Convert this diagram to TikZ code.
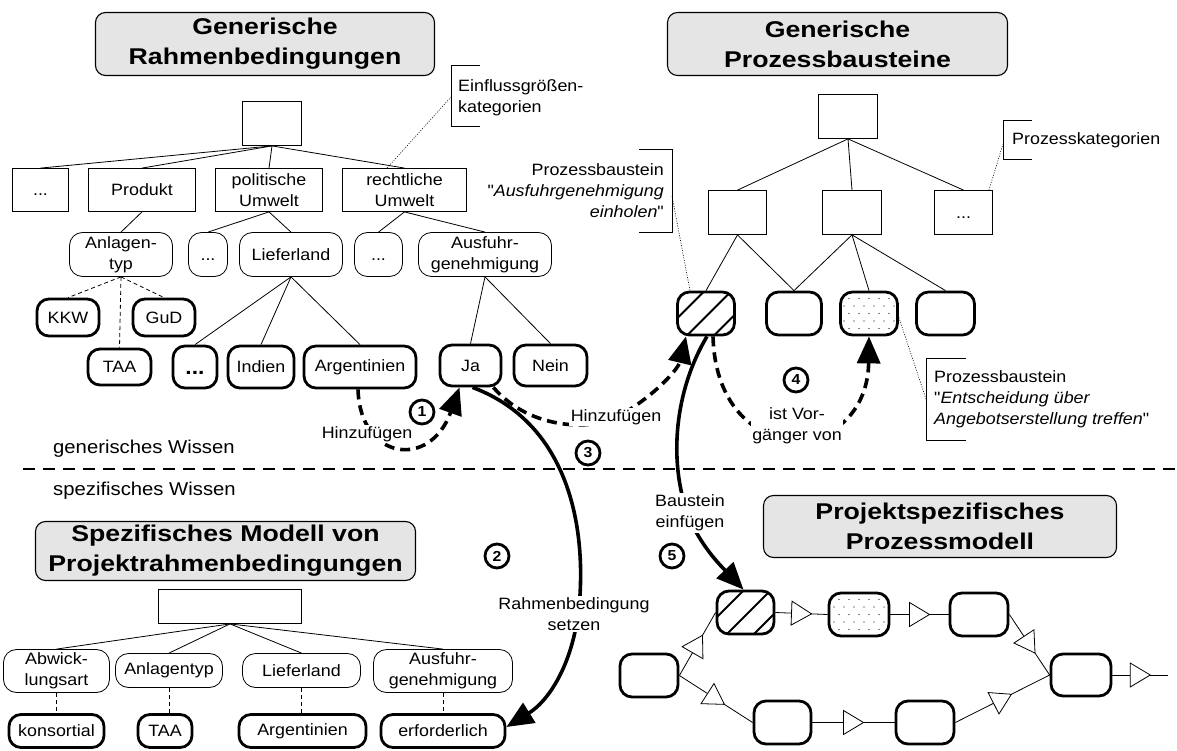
\documentclass[tikz,border=0pt]{standalone}
\usepackage{fontspec}
\setmainfont{Liberation Sans}[Ligatures=TeXOff, FakeStretch=1.09]
\newfontfamily\titlefont{Liberation Sans}[FakeStretch=1.17]
\usetikzlibrary{arrows.meta,calc,decorations.markings}
\newcommand{\mydots}{\vphantom{I}...}
\begin{document}
\begin{tikzpicture}[x=1pt,y=-1pt,
  every node/.style={font=\fontsize{16.4}{21}\selectfont, align=center, inner sep=0pt},
  cat/.style={draw, line width=0.8pt, rectangle},
  attr/.style={draw, line width=0.8pt, rounded corners=13pt},
  val/.style={draw, line width=2.8pt, rounded corners=12pt},
  title/.style={draw, line width=1.1pt, fill=black!10, rounded corners=10pt,
    font=\titlefont\fontsize{22.8}{30}\selectfont\bfseries},
  edge/.style={line width=0.8pt},
  dedge/.style={line width=0.8pt, dash pattern=on 4pt off 3pt},
  note/.style={line width=0.8pt},
  hint/.style={line width=0.6pt, dash pattern=on 1pt off 1.5pt},
  lab/.style={fill=white, inner sep=1.5pt},
  num/.style={circle, draw, line width=2.8pt, minimum size=24,
    font=\fontsize{14.5}{15}\selectfont\bfseries},
  bigarrow/.style={line width=3.6pt, -{Triangle[length=27pt,width=23pt]}},
  dasharrow/.style={bigarrow, dash pattern=on 10pt off 6pt},
  sepline/.style={line width=1.2pt, dash pattern=on 12pt off 8pt},
  flow/.style={line width=0.8pt, postaction={decorate, decoration={markings,
    mark=at position 0.5 with {\draw[line width=0.8pt, fill=white, solid]
      (-10pt,-12pt) -- (10pt,0pt) -- (-10pt,12pt) -- cycle;}}}},
  hatched/.style={path picture={
    \foreach \hh in {-24,3,30}
      \draw[line width=1.8pt] ($(path picture bounding box.center)+(\hh/2-40,\hh/2+40)$) -- ++(80,-80);}},
  dotfill/.style={path picture={
    \foreach \ii in {-3,...,3} \foreach \jj in {-2,0,2}
      \fill ($(path picture bounding box.center)+(\ii*10,\jj*7.5)$) circle (0.7pt);
    \foreach \ii in {-4,...,3} \foreach \jj in {-3,-1,1,3}
      \fill ($(path picture bounding box.center)+(\ii*10+5,\jj*7.5)$) circle (0.7pt);}}
]
\useasboundingbox (0,0) rectangle (1177,751);

% ---------- titles ----------
\node[title, minimum width=339, minimum height=63] (t1) at (265,44) {Generische\\Rahmenbedingungen};
\node[title, minimum width=340, minimum height=63] (t2) at (837.5,44) {Generische\\Prozessbausteine};
\node[title, minimum width=380, minimum height=59] (t3) at (225.5,551) {Spezifisches Modell von\\Projektrahmenbedingungen};
\node[title, minimum width=353, minimum height=62] (t4) at (940,526.5) {Projektspezifisches\\Prozessmodell};

% ---------- generic conditions tree ----------
\node[cat, minimum width=59, minimum height=44] (gr) at (272,123.5) {};
\node[cat, minimum width=56, minimum height=43] (g1) at (40.5,190) {\mydots};
\node[cat, minimum width=107, minimum height=43] (g2) at (142,190) {Produkt};
\node[cat, minimum width=107, minimum height=43] (g3) at (269,190) {politische\\Umwelt};
\node[cat, minimum width=124, minimum height=43] (g4) at (404.5,190) {rechtliche\\Umwelt};

\node[attr, minimum width=103, minimum height=44] (a1) at (121,254.5) {Anlagen-\\typ};
\node[attr, minimum width=39, minimum height=44] (a2) at (208,254.5) {\mydots};
\node[attr, minimum width=103, minimum height=44] (a3) at (291,254.5) {Lieferland};
\node[attr, minimum width=48, minimum height=44] (a4) at (378.5,254.5) {\mydots};
\node[attr, minimum width=133, minimum height=44] (a5) at (485,254.5) {Ausfuhr-\\genehmigung};

\node[val, minimum width=62, minimum height=37] (kkw) at (68,317.5) {KKW};
\node[val, minimum width=62, minimum height=37] (gud) at (164,317.5) {GuD};
\node[val, minimum width=63, minimum height=36] (taa) at (119.5,367) {TAA};
\node[val, minimum width=44, minimum height=42, font=\fontsize{21}{26}\selectfont\bfseries] (vdots) at (195,367) {\mydots};
\node[val, minimum width=66, minimum height=42] (ind) at (261,367) {Indien};
\node[val, minimum width=112, minimum height=42] (arg) at (360,367) {Argentinien};
\node[val, minimum width=61, minimum height=41] (ja) at (470.5,365.5) {Ja};
\node[val, minimum width=73, minimum height=41] (nein) at (550.5,365.5) {Nein};

\foreach \c in {g1,g2,g3,g4} \draw[edge] (gr.south) -- (\c.north);
\draw[edge] (g2.south) -- (a1.north);
\draw[edge] (g3.south) -- (a2.north);
\draw[edge] (g3.south) -- (a3.north);
\draw[edge] (g4.south) -- (a4.north);
\draw[edge] (g4.south) -- (a5.north);
\foreach \c in {kkw,taa,gud} \draw[dedge] (a1.south) -- (\c.north);
\foreach \c in {vdots,ind,arg} \draw[edge] (a3.south) -- (\c.north);
\foreach \c in {ja,nein} \draw[edge] (a5.south) -- (\c.north);

% category note
\node[anchor=west, align=left] (e1) at (458,97.5) {Einflussgrößen-\\kategorien};
\coordinate (e1a) at (480,65); \coordinate (e1b) at (451,65);
\coordinate (e1c) at (451,126); \coordinate (e1d) at (480,126);
\coordinate (e1m) at (451,97);
\draw[note] (e1a) -- (e1b) -- (e1c) -- (e1d);
\draw[hint] ([xshift=-17.5pt]g4.north) -- (e1m);

% ---------- generic process blocks tree ----------
\node[cat, minimum width=59, minimum height=44] (pr) at (848,116.5) {};
\node[cat, minimum width=58, minimum height=44] (p1) at (737.5,212.5) {};
\node[cat, minimum width=59, minimum height=44] (p2) at (852,212.5) {};
\node[cat, minimum width=58, minimum height=44] (p3) at (963.5,212.5) {\mydots};

\node[val, hatched, minimum width=57, minimum height=43] (b1) at (706,313.5) {};
\node[val, minimum width=55, minimum height=43] (b2) at (794,313.5) {};
\node[val, dotfill, minimum width=57, minimum height=43] (b3) at (869,313.5) {};
\node[val, minimum width=58, minimum height=43] (b4) at (945.5,313.5) {};

\foreach \c in {p1,p2,p3} \draw[edge] (pr.south) -- (\c.north);
\foreach \c in {b1,b2} \draw[edge] (p1.south) -- (\c.north);
\foreach \c in {b2,b3,b4} \draw[edge] (p2.south) -- (\c.north);

\node[anchor=west, align=left] (pk) at (1012,140) {Prozesskategorien};
\coordinate (pka) at (1032,120); \coordinate (pkb) at (1003,120);
\coordinate (pkc) at (1003,159); \coordinate (pkd) at (1032,159);
\coordinate (pkm) at (1003,144);
\draw[note] (pka) -- (pkb) -- (pkc) -- (pkd);
\draw[hint] ([xshift=-4pt]p3.north east) -- (pkm);

\node[anchor=east, align=right] (pa) at (664,191)
  {Prozessbaustein\\"\textit{Ausfuhrgenehmigung}\\\textit{einholen}"};
\coordinate (paa) at (639,149); \coordinate (pab) at (672,149);
\coordinate (pac) at (672,232); \coordinate (pad) at (639,232);
\coordinate (pam) at (672,196);
\draw[note] (paa) -- (pab) -- (pac) -- (pad);
\draw[hint] (pam) -- ([xshift=-16pt]b1.north);

\node[anchor=west, align=left] (pe) at (934,399)
  {Prozessbaustein\\"\textit{Entscheidung über}\\\textit{Angebotserstellung treffen}"};
\coordinate (pea) at (966,358); \coordinate (peb) at (926,358);
\coordinate (pec) at (926,440); \coordinate (ped) at (966,440);
\coordinate (pem) at (926,399);
\draw[note] (pea) -- (peb) -- (pec) -- (ped);
\draw[hint] ([yshift=-4pt]b3.east) -- (pem);

% ---------- separator ----------
\node[anchor=west, font=\fontsize{18.6}{22}\selectfont] (gw) at (53,449) {generisches Wissen};
\node[anchor=west, font=\fontsize{18.6}{22}\selectfont] (sw) at (53,491) {spezifisches Wissen};
\coordinate (sepL) at (23,469); \coordinate (sepR) at (1177,469);
\draw[sepline] (sepL) -- (sepR);

% ---------- specific conditions tree ----------
\node[cat, minimum width=143, minimum height=34] (sr) at (230,606.5) {};
\node[attr, minimum width=106, minimum height=43] (s1) at (56.5,671) {Abwick-\\lungsart};
\node[attr, minimum width=107, minimum height=34] (s2) at (169,670.5) {Anlagentyp};
\node[attr, minimum width=118, minimum height=34] (s3) at (301.5,670.5) {Lieferland};
\node[attr, minimum width=139, minimum height=43] (s4) at (443,671) {Ausfuhr-\\genehmigung};
\node[val, minimum width=95, minimum height=33] (v1) at (56.5,731) {konsortial};
\node[val, minimum width=54, minimum height=33] (v2) at (165,731) {TAA};
\node[val, minimum width=127, minimum height=33] (v3) at (302.5,731) {Argentinien};
\node[val, minimum width=124, minimum height=33] (v4) at (443,731) {erforderlich};
\foreach \c in {s1,s2,s3,s4} \draw[edge] (sr.south) -- (\c.north);
\draw[dedge] (s1.south) -- (s1.south |- v1.north);
\draw[dedge] (s2.south) -- (s2.south |- v2.north);
\draw[dedge] (s3.south) -- (s3.south |- v3.north);
\draw[dedge] (s4.south) -- (s4.south |- v4.north);

% ---------- project process model ----------
\node[val, minimum width=58, minimum height=43] (m0) at (649,675.5) {};
\node[val, hatched, minimum width=57, minimum height=43] (m1) at (745.5,612.5) {};
\node[val, dotfill, minimum width=60, minimum height=43] (m2) at (859,614.5) {};
\node[val, minimum width=58, minimum height=43] (m3) at (979,614.5) {};
\node[val, minimum width=60, minimum height=42] (m4) at (1081,675) {};
\node[val, minimum width=57, minimum height=43] (m5) at (782.5,722.5) {};
\node[val, minimum width=58, minimum height=43] (m6) at (925,722.5) {};
\coordinate (mout) at (1168,675);
\draw[flow] (m0.east) -- (m1.west);
\draw[flow] (m0.east) -- (m5.west);
\draw[flow] (m1.east) -- (m2.west);
\draw[flow] (m2.east) -- (m3.west);
\draw[flow] (m3.east) -- (m4.west);
\draw[flow] (m5.east) -- (m6.west);
\draw[flow] (m6.east) -- (m4.west);
\draw[flow] (m4.east) -- (mout);

% ---------- actions ----------
\draw[dasharrow] ([xshift=-2pt]arg.south) .. controls (360,460) and (430,470) .. ([xshift=-11pt]ja.south);
\draw[bigarrow] ([xshift=2pt]ja.south) .. controls (560,420) and (585,510) .. (580,595)
  .. controls (576,660) and (550,700) .. ([yshift=4pt]v4.east);
\draw[dasharrow] ([xshift=-9pt]ja.south east) .. controls (530,430) and (590,430) .. (615,418)
  .. controls (650,400) and (678,370) .. ([xshift=-20pt]b1.south);
\draw[dasharrow] ([xshift=7pt]b1.south) .. controls (715,410) and (760,440) .. (797,440)
  .. controls (835,440) and (868,410) .. (b3.south);
\draw[bigarrow] ([xshift=1pt]b1.south) .. controls (675,390) and (668,460) .. (688,515)
  .. controls (700,545) and (720,565) .. ([xshift=-2pt]m1.north);

\node[lab] (l1) at (367,434) {Hinzufügen};
\node[lab] (l2) at (574,614) {Rahmenbedingung\\setzen};
\node[lab] (l3) at (616,417) {Hinzufügen};
\node[lab] (l4) at (797,426) {ist Vor-\\gänger von};
\node[lab] (l5) at (690,513) {Baustein\\einfügen};

\node[num] (n1) at (422,412) {1};
\node[num] (n2) at (497,556) {2};
\node[num] (n3) at (588,453) {3};
\node[num] (n4) at (796,380) {4};
\node[num] (n5) at (672,556) {5};
\end{tikzpicture}
\end{document}
